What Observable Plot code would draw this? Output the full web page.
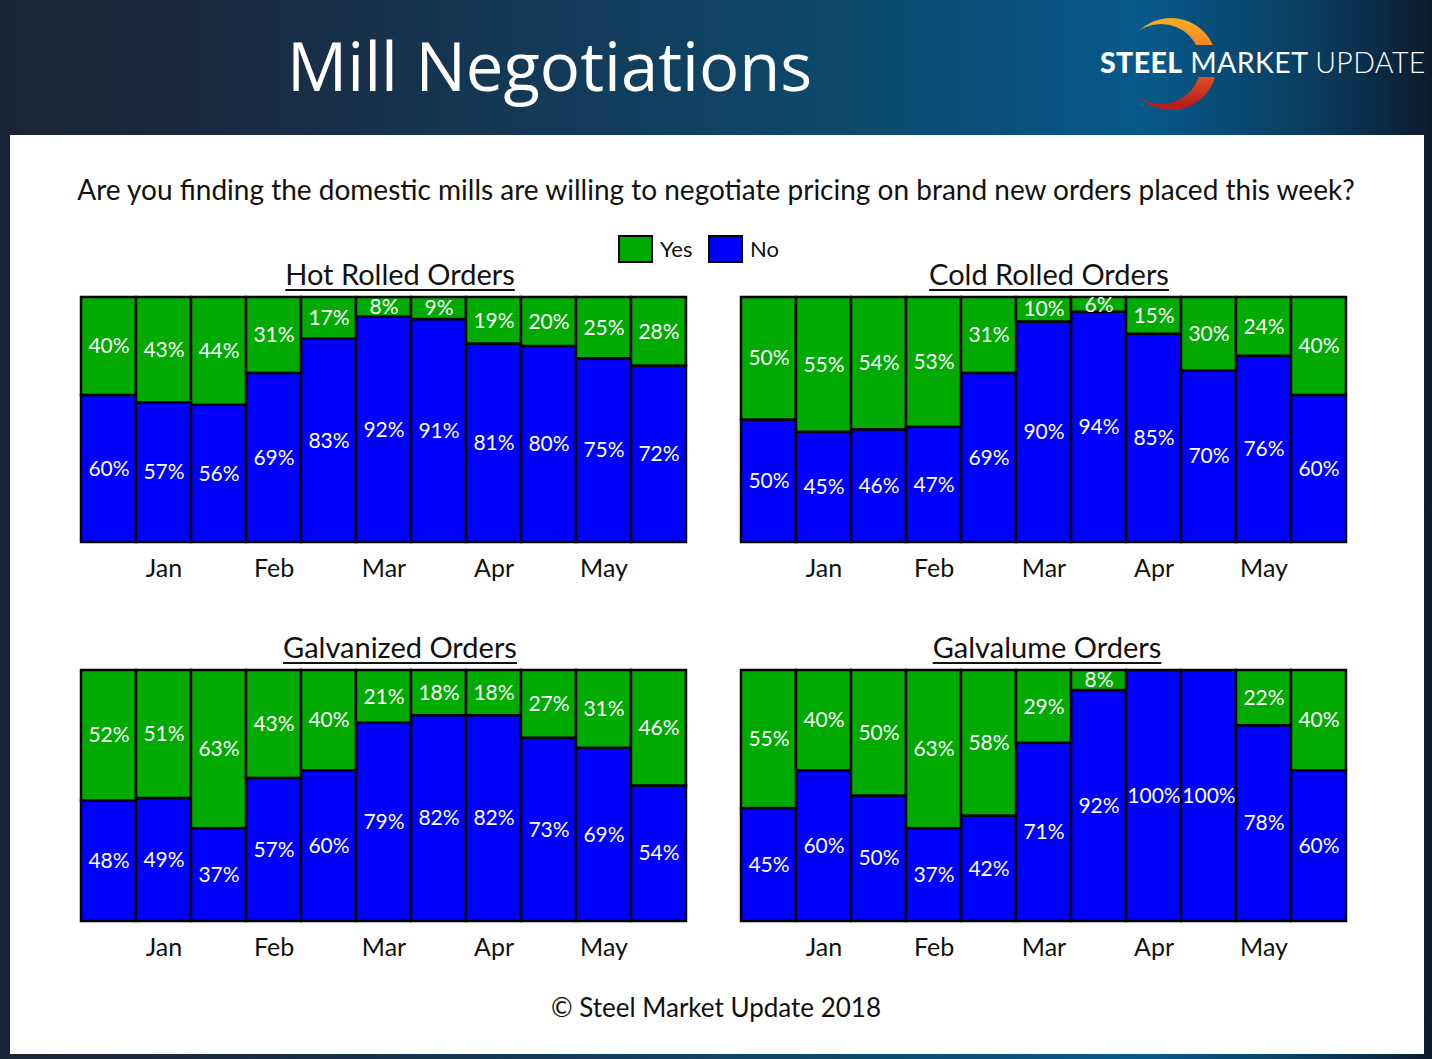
<!DOCTYPE html>
<html>
<head>
<meta charset="utf-8">
<script src="https://cdn.jsdelivr.net/npm/d3@7"></script>
<script src="https://cdn.jsdelivr.net/npm/@observablehq/plot@0.6"></script>
<style>
  html, body { margin: 0; padding: 0; }
  body { width: 1432px; height: 1059px; overflow: hidden; font-family: Lato, "Open Sans", sans-serif; }
  #page { position: relative; width: 1432px; height: 1059px;
    background: linear-gradient(90deg, #1b2436 0%, #173049 25%, #0d4a6e 60%, #07598a 80%, #0a3c5e 92%, #0b1b2d 100%); }
  #panel { position: absolute; left: 10px; top: 135px; width: 1414px; height: 919px; background: #fff; }
  .abs { position: absolute; }
  #title { left: 287px; top: 19px; font-family: "Open Sans", sans-serif; font-size: 67px; color: #fff; white-space: nowrap; }
  #question { left: 0; width: 1432px; top: 172px; text-align: center; font-size: 28px; color: #111; white-space: nowrap; }
  .ctitle { font-size: 29px; color: #111; text-decoration: underline; text-decoration-thickness: 2px; text-underline-offset: 4px; white-space: nowrap; transform: translateX(-50%); }
  .legbox { width: 31px; height: 24px; border: 2px solid #000; }
  .legtxt { font-size: 22px; color: #111; }
  #copy { left: 0; width: 1432px; top: 991px; text-align: center; font-size: 26px; color: #111; }
  #logo { left: 1100px; top: 45px; font-family: Lato, sans-serif; font-size: 28.5px; color: #fff; white-space: nowrap; letter-spacing: 0.4px; }
</style>
</head>
<body>
<div id="page">
  <div id="panel"></div>
  <svg class="abs" style="left:1110px;top:8px" width="120" height="112" viewBox="0 0 120 112">
    <defs>
      <linearGradient id="arcg" x1="0" y1="0" x2="0" y2="1">
        <stop offset="0.05" stop-color="#f9a825"/>
        <stop offset="0.5" stop-color="#ee6a25"/>
        <stop offset="0.95" stop-color="#b81c1c"/>
      </linearGradient>
      <mask id="arcmask">
        <rect x="0" y="0" width="120" height="37" fill="#fff"/>
        <rect x="0" y="69" width="120" height="43" fill="#fff"/>
        <circle cx="51" cy="56" r="40" fill="#000"/>
      </mask>
    </defs>
    <circle cx="61" cy="56" r="46" fill="url(#arcg)" mask="url(#arcmask)"/>
  </svg>
  <div id="logo" class="abs"><span style="font-weight:900">STEEL</span> <span style="font-weight:400">MARKET</span> <span style="font-weight:300">UPDATE</span></div>
  <div id="title" class="abs">Mill Negotiations</div>
  <div id="question" class="abs">Are you finding the domestic mills are willing to negotiate pricing on brand new orders placed this week?</div>

  <div class="abs legbox" style="left:618px;top:235px;background:#00aa00"></div>
  <div class="abs legtxt" style="left:660px;top:235px">Yes</div>
  <div class="abs legbox" style="left:708px;top:235px;background:#0000ff"></div>
  <div class="abs legtxt" style="left:750px;top:235px">No</div>

  <div class="abs ctitle" style="left:400px;top:256px">Hot Rolled Orders</div>
  <div class="abs ctitle" style="left:1049px;top:256px">Cold Rolled Orders</div>
  <div class="abs ctitle" style="left:400px;top:629px">Galvanized Orders</div>
  <div class="abs ctitle" style="left:1047px;top:629px">Galvalume Orders</div>

  <div id="c1" class="abs" style="left:71px;top:287px"></div>
  <div id="c2" class="abs" style="left:731px;top:287px"></div>
  <div id="c3" class="abs" style="left:71px;top:660px"></div>
  <div id="c4" class="abs" style="left:731px;top:660px"></div>

  <div id="copy" class="abs">© Steel Market Update 2018</div>
</div>
<script>
// Month labels and the bar index each one sits under
const months = ["Jan", "Feb", "Mar", "Apr", "May"];
const monthBars = [1, 3, 5, 7, 9];

// Hot Rolled Orders (percent)
const hotYes = [40, 43, 44, 31, 17, 8, 9, 19, 20, 25, 28];
const hotNo  = [60, 57, 56, 69, 83, 92, 91, 81, 80, 75, 72];
// Cold Rolled Orders
const coldYes = [50, 55, 54, 53, 31, 10, 6, 15, 30, 24, 40];
const coldNo  = [50, 45, 46, 47, 69, 90, 94, 85, 70, 76, 60];
// Galvanized Orders
const galvYes = [52, 51, 63, 43, 40, 21, 18, 18, 27, 31, 46];
const galvNo  = [48, 49, 37, 57, 60, 79, 82, 82, 73, 69, 54];
// Galvalume Orders
const glmYes = [55, 40, 50, 63, 58, 29, 8, 0, 0, 22, 40];
const glmNo  = [45, 60, 50, 37, 42, 71, 92, 100, 100, 78, 60];

const GREEN = "#00aa00", BLUE = "#0000ff";

function chart(yes, no, frameH) {
  const idx = d3.range(yes.length);
  const rows = idx.map(i => ({i, yes: yes[i], no: no[i]}));
  return Plot.plot({
    width: 625,
    height: frameH + 50,
    marginLeft: 10, marginRight: 10, marginTop: 10, marginBottom: 40,
    style: {fontFamily: "Lato, 'Open Sans', sans-serif", background: "transparent", overflow: "visible"},
    x: {type: "band", domain: idx, padding: 0},
    y: {domain: [0, 100], axis: null},
    marks: [
      Plot.barY(rows, {x: "i", y1: 0, y2: "no", fill: BLUE, stroke: "#000", strokeWidth: 2.5}),
      Plot.barY(rows.filter(d => d.yes > 0), {x: "i", y1: "no", y2: d => d.no + d.yes, fill: GREEN, stroke: "#000", strokeWidth: 2.5}),
      Plot.text(rows, {x: "i", y: d => d.no / 2, text: d => d.no + "%", fill: "#fff", fontSize: 21}),
      Plot.text(rows.filter(d => d.yes > 0), {x: "i", y: d => d.no + d.yes / 2, text: d => d.yes + "%", fill: "#fff", fontSize: 21}),
      Plot.axisX({ticks: monthBars, tickFormat: i => months[monthBars.indexOf(i)], tickSize: 0, tickPadding: 17, fontSize: 25, fill: "#111", label: null})
    ]
  });
}

document.getElementById("c1").append(chart(hotYes, hotNo, 245));
document.getElementById("c2").append(chart(coldYes, coldNo, 245));
document.getElementById("c3").append(chart(galvYes, galvNo, 251));
document.getElementById("c4").append(chart(glmYes, glmNo, 251));
</script>
</body>
</html>
